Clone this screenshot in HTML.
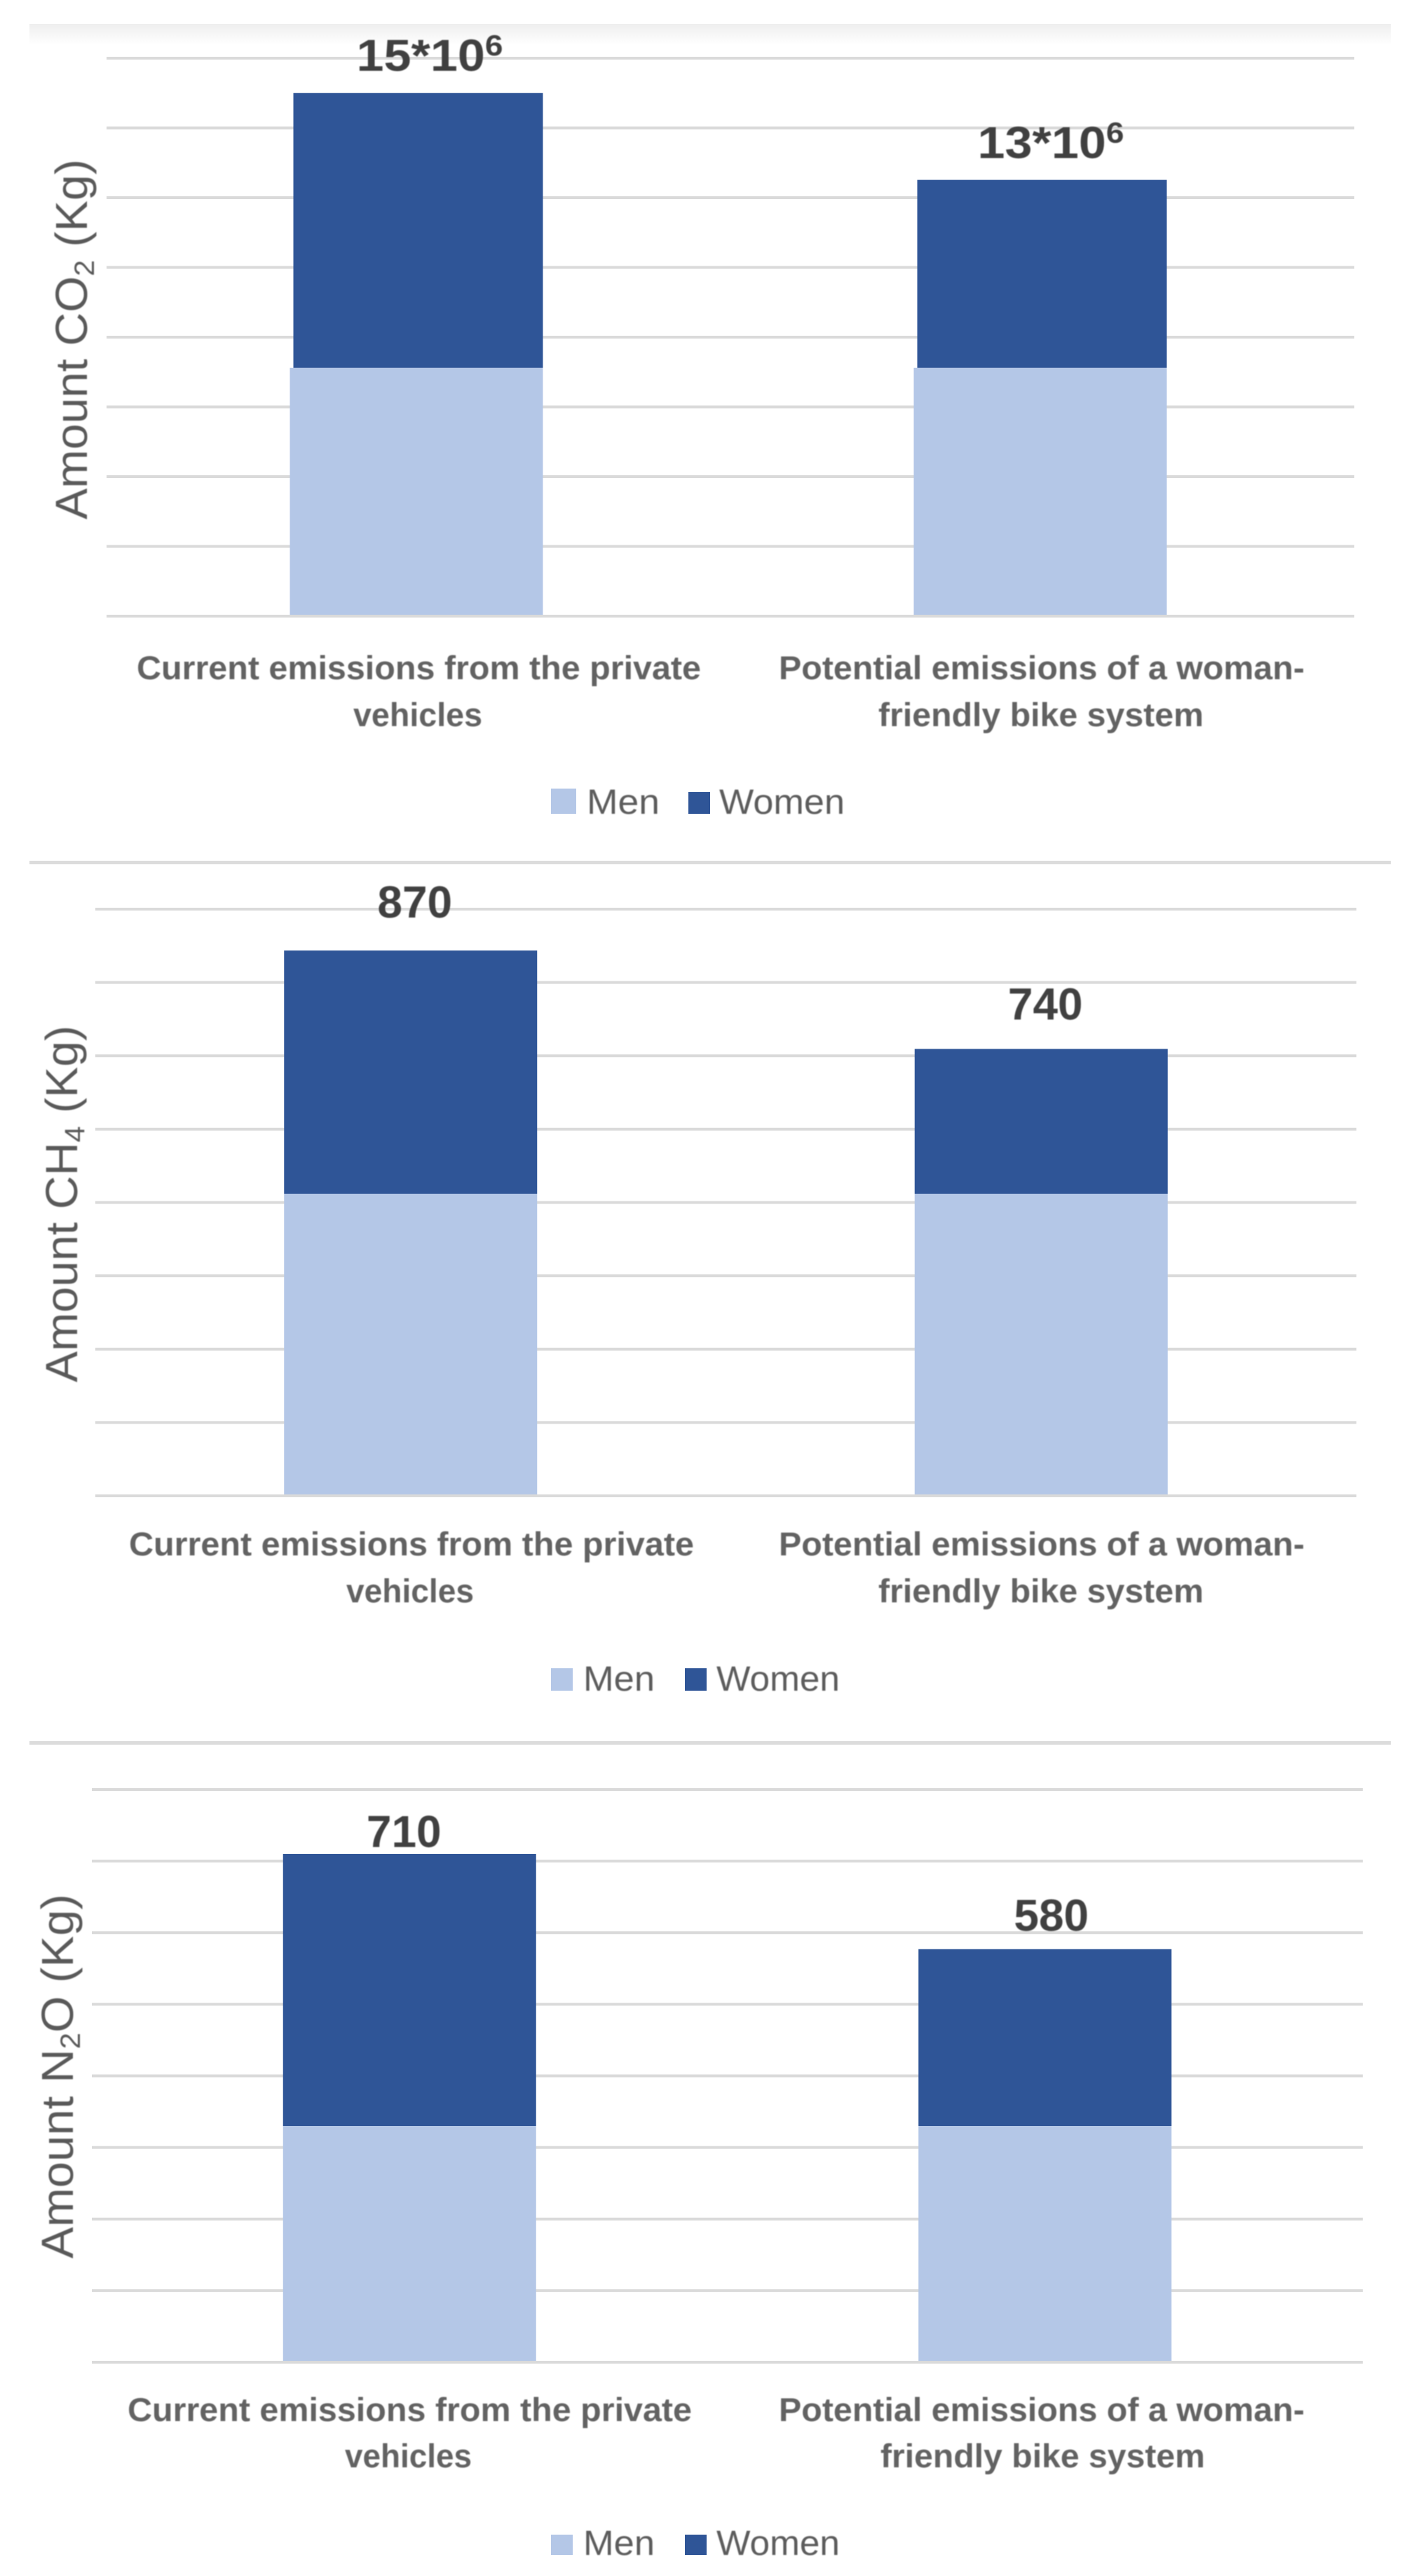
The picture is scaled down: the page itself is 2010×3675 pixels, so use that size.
<!DOCTYPE html>
<html lang="en">
<head>
<meta charset="utf-8">
<title>Emissions of private vehicles versus a woman-friendly bike system</title>
<style>
  html, body { margin: 0; padding: 0; background: #fff; }
  svg { display: block; }
  text { font-family: "Liberation Sans", sans-serif; }
  .soft { filter: blur(0.9px); }
  .y-title { font-size: 64px; fill: #595959; }
  .x-label { font-size: 47px; font-weight: 700; fill: #626262; }
  .legend-text { font-size: 50px; fill: #5c5c5c; }
  .value-label { font-size: 64px; font-weight: 700; fill: #404040; }
</style>
</head>
<body>
<svg id="figure" xmlns="http://www.w3.org/2000/svg" width="2010" height="3675" viewBox="0 0 2010 3675">
  <defs>
    <linearGradient id="top-shade-fill" x1="0" y1="0" x2="0" y2="1">
      <stop offset="0" stop-color="#eeeeee"/>
      <stop offset="1" stop-color="#ffffff"/>
    </linearGradient>
  </defs>
  <rect x="42" y="34" width="1942" height="30" fill="url(#top-shade-fill)"/>
  <rect x="42" y="1228" width="1942" height="5" fill="#dcdcdc"/>
  <rect x="42" y="2484" width="1942" height="5" fill="#dcdcdc"/>

  <g id="chart-co2"></g>
  <g id="chart-ch4"></g>
  <g id="chart-n2o"></g>

  <g class="soft">
    <text class="y-title" x="124" y="741" transform="rotate(-90 124 741)" textLength="514" lengthAdjust="spacingAndGlyphs">Amount CO<tspan font-size="40" dy="10">2</tspan><tspan dy="-10"> (Kg)</tspan></text>
    <text class="x-label" x="195" y="969" textLength="805" lengthAdjust="spacingAndGlyphs">Current emissions from the private</text>
    <text class="x-label" x="504" y="1036" textLength="184" lengthAdjust="spacingAndGlyphs">vehicles</text>
    <text class="x-label" x="1111" y="969" textLength="750" lengthAdjust="spacingAndGlyphs">Potential emissions of a woman-</text>
    <text class="x-label" x="1253" y="1036" textLength="464" lengthAdjust="spacingAndGlyphs">friendly bike system</text>
    <text class="legend-text" x="837" y="1161" textLength="104" lengthAdjust="spacingAndGlyphs">Men</text>
    <text class="legend-text" x="1026" y="1161" textLength="179" lengthAdjust="spacingAndGlyphs">Women</text>
  </g>
  <rect x="786" y="1125" width="36" height="36" fill="#b4c7e7"/>
  <rect x="982" y="1130" width="31" height="31" fill="#2f5597"/>

  <g class="soft">
    <text class="y-title" x="110" y="1972" transform="rotate(-90 110 1972)" textLength="509" lengthAdjust="spacingAndGlyphs">Amount CH<tspan font-size="40" dy="10">4</tspan><tspan dy="-10"> (Kg)</tspan></text>
    <text class="x-label" x="184" y="2219" textLength="806" lengthAdjust="spacingAndGlyphs">Current emissions from the private</text>
    <text class="x-label" x="494" y="2286" textLength="182" lengthAdjust="spacingAndGlyphs">vehicles</text>
    <text class="x-label" x="1111" y="2219" textLength="750" lengthAdjust="spacingAndGlyphs">Potential emissions of a woman-</text>
    <text class="x-label" x="1253" y="2286" textLength="464" lengthAdjust="spacingAndGlyphs">friendly bike system</text>
    <text class="legend-text" x="832" y="2412" textLength="102" lengthAdjust="spacingAndGlyphs">Men</text>
    <text class="legend-text" x="1022" y="2412" textLength="176" lengthAdjust="spacingAndGlyphs">Women</text>
  </g>
  <rect x="786" y="2380" width="31" height="32" fill="#b4c7e7"/>
  <rect x="977" y="2380" width="31" height="32" fill="#2f5597"/>

  <g class="soft">
    <text class="y-title" x="104" y="3222" transform="rotate(-90 104 3222)" textLength="520" lengthAdjust="spacingAndGlyphs">Amount N<tspan font-size="40" dy="10">2</tspan><tspan dy="-10">O (Kg)</tspan></text>
    <text class="x-label" x="182" y="3454" textLength="805" lengthAdjust="spacingAndGlyphs">Current emissions from the private</text>
    <text class="x-label" x="492" y="3520" textLength="181" lengthAdjust="spacingAndGlyphs">vehicles</text>
    <text class="x-label" x="1111" y="3454" textLength="750" lengthAdjust="spacingAndGlyphs">Potential emissions of a woman-</text>
    <text class="x-label" x="1256" y="3520" textLength="463" lengthAdjust="spacingAndGlyphs">friendly bike system</text>
    <text class="legend-text" x="832" y="3645" textLength="102" lengthAdjust="spacingAndGlyphs">Men</text>
    <text class="legend-text" x="1022" y="3645" textLength="176" lengthAdjust="spacingAndGlyphs">Women</text>
  </g>
  <rect x="786" y="3616" width="31" height="29" fill="#b4c7e7"/>
  <rect x="977" y="3616" width="31" height="29" fill="#2f5597"/>
</svg>

<script>
// Chart data
const categories = ['current', 'potential'];

const co2Ticks = [0, 2, 4, 6, 8, 10, 12, 14, 16];
const co2Men = [7.12, 7.12];
const co2Women = [7.88, 5.39];
const co2LabelBase = ['15*10', '13*10'];
const co2LabelSup = ['6', '6'];

const ch4Ticks = [0, 117, 234, 351, 468, 585, 702, 819, 936];
const ch4Men = [482, 482];
const ch4Women = [388, 231];
const ch4LabelBase = ['870', '740'];
const ch4LabelSup = ['', ''];

const n2oTicks = [0, 100, 200, 300, 400, 500, 600, 700, 800];
const n2oMen = [330, 330];
const n2oWomen = [380, 247];
const n2oLabelBase = ['710', '580'];
const n2oLabelSup = ['', ''];

const SVG_NS = 'http://www.w3.org/2000/svg';

function make(parent, tag, attrs) {
  const node = document.createElementNS(SVG_NS, tag);
  Object.keys(attrs).forEach(function (k) { node.setAttribute(k, attrs[k]); });
  parent.appendChild(node);
  return node;
}

function drawChart(parent, ticks, men, women, labelBase, labelSup, frame) {
  const maxTick = ticks[ticks.length - 1];
  const yScale = function (v) { return frame.yBase - (v / maxTick) * (frame.yBase - frame.yTop); };
  const band = (frame.xRight - frame.xLeft) / categories.length;
  const xCenter = function (i) { return frame.xLeft + band * (i + 0.5) + frame.shift; };

  ticks.forEach(function (t) {
    const el = make(parent, 'line', { x1: frame.xLeft, x2: frame.xRight, y1: yScale(t), y2: yScale(t), stroke: '#dadada', 'stroke-width': 4 });
    
    
  });

  categories.forEach(function (cat, i) {
    const left = xCenter(i) - frame.barWidth / 2;
    const menTop = yScale(men[i]);
    const totalTop = yScale(men[i] + women[i]);

    const menBar = make(parent, 'rect', { x: left, y: menTop, width: frame.barWidth, height: yScale(0) - 2 - menTop, fill: '#b4c7e7' });
    
    

    const womenBar = make(parent, 'rect', { x: left + frame.womenInset, y: totalTop, width: frame.barWidth - frame.womenInset, height: menTop - totalTop, fill: '#2f5597' });
    
    

    const label = make(parent, 'text', {
      class: 'value-label soft',
      x: xCenter(i) + frame.labelDx[i],
      y: totalTop - frame.labelLift[i],
      'text-anchor': 'middle'
    });
    
    
    label.appendChild(document.createTextNode(labelBase[i]));
    if (labelSup[i]) {
      const sup = make(label, 'tspan', { 'font-size': 42, dy: -22 });
      sup.textContent = labelSup[i];
    }
    if (frame.labelWidth) {
      label.setAttribute('textLength', frame.labelWidth);
      label.setAttribute('lengthAdjust', 'spacingAndGlyphs');
    }
  });
}

drawChart(document.getElementById('chart-co2'), co2Ticks, co2Men, co2Women, co2LabelBase, co2LabelSup,
  { xLeft: 152, xRight: 1932, yTop: 83, yBase: 879, barWidth: 361, shift: -3, womenInset: 5, labelDx: [19, 15], labelLift: [32, 31], labelWidth: 209 });
drawChart(document.getElementById('chart-ch4'), ch4Ticks, ch4Men, ch4Women, ch4LabelBase, ch4LabelSup,
  { xLeft: 136, xRight: 1935, yTop: 1297, yBase: 2134, barWidth: 361, shift: 0, womenInset: 0, labelDx: [6, 6], labelLift: [47, 42], labelWidth: 0 });
drawChart(document.getElementById('chart-n2o'), n2oTicks, n2oMen, n2oWomen, n2oLabelBase, n2oLabelSup,
  { xLeft: 131, xRight: 1944, yTop: 2553, yBase: 3370, barWidth: 361, shift: 0, womenInset: 0, labelDx: [-8, 9], labelLift: [10, 26], labelWidth: 0 });
</script>
</body>
</html>
